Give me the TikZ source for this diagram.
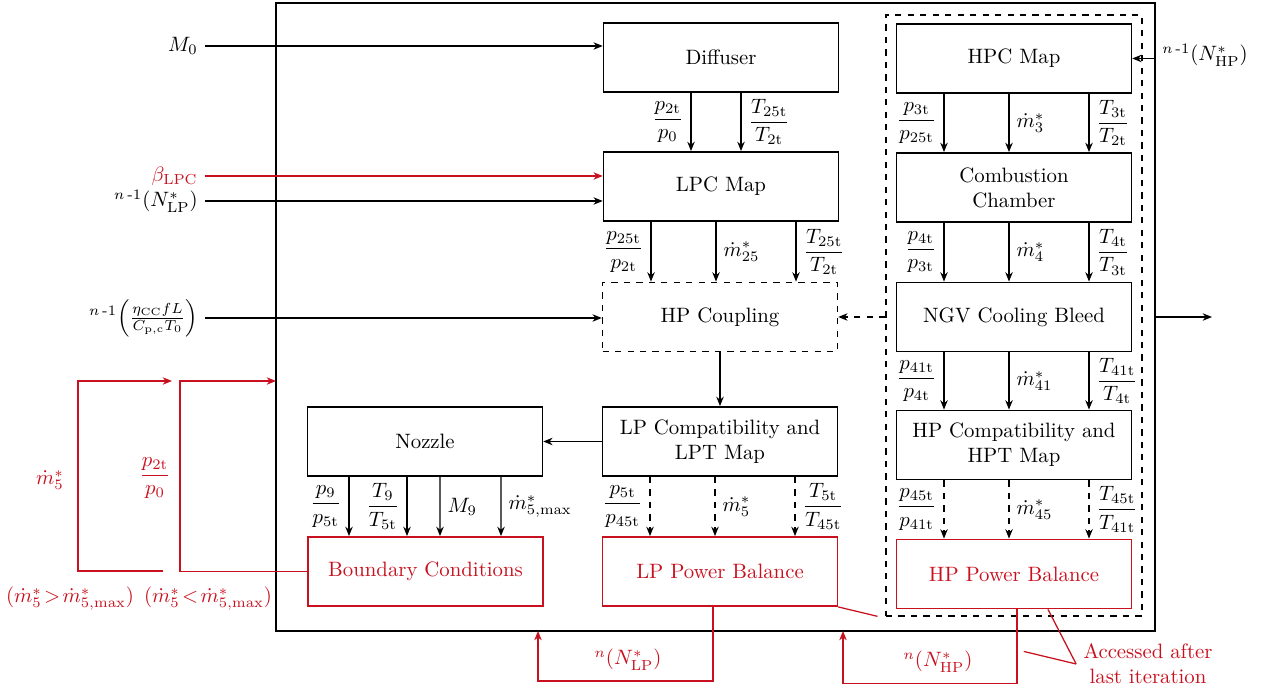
\documentclass[tikz,border=0pt]{standalone}
\usepackage{amsmath}
\usepackage{tikz}
\usetikzlibrary{calc,arrows.meta}
\definecolor{fbred}{RGB}{200,16,30}

\begin{document}
\begin{tikzpicture}[x=0.0169cm,y=-0.0169cm,
  >={Stealth[length=4.5pt,width=3.6pt]},
  blk/.style={draw,thick,minimum width=3.97cm,minimum height=1.17cm,align=center},
  redblk/.style={blk,draw=fbred,text=fbred},
  flow/.style={semithick,->},
  fb/.style={semithick,fbred}]
  \useasboundingbox (0,0) rectangle (1262,689);

  % frames
  \node[draw,thick,minimum width=14.86cm,minimum height=10.61cm] (outer) at (715.5,317) {};
  \node[draw,semithick,dashed,minimum width=4.33cm,minimum height=10.16cm] (hpgroup) at (1014,315.5) {};

  % LP side
  \node[blk] (diff) at (721,57.5) {Diffuser};
  \node[blk] (lpc) at (721,186.5) {LPC Map};
  \node[blk,dashed] (hpcoup) at (720,317) {HP Coupling};
  \node[blk] (lpcomp) at (720,441.5) {LP Compatibility and\\LPT Map};
  \node[blk] (noz) at (425,441.5) {Nozzle};
  \node[redblk] (bc) at (425.5,571.5) {Boundary Conditions};
  \node[redblk] (lppb) at (720,571.5) {LP Power Balance};

  % HP side
  \node[blk] (hpc) at (1014,58.5) {HPC Map};
  \node[blk] (cc) at (1014,187.5) {Combustion\\Chamber};
  \node[blk] (ngv) at (1014,317) {NGV Cooling Bleed};
  \node[blk] (hpcomp) at (1014,445) {HP Compatibility and\\HPT Map};
  \node[redblk] (hppb) at (1014,574) {HP Power Balance};

  % inputs
  \node[anchor=east] (m0) at (205,46) {$M_0$};
  \node[anchor=east,text=fbred] (beta) at (205,176) {$\beta_{\mathrm{LPC}}$};
  \node[anchor=east] (nlpin) at (205,201) {${}^{n\,\text{-}1}\!\left(N^*_{\mathrm{LP}}\right)$};
  \node[anchor=east] (eta) at (205,318) {${}^{n\,\text{-}1}\!\left(\frac{\eta_{\mathrm{CC}}fL}{C_{\mathrm{p,c}}T_0}\right)$};
  \node[anchor=west] (nhpin) at (1155,55) {${}^{n\,\text{-}1}\!\left(N^*_{\mathrm{HP}}\right)$};
  \coordinate (out) at (1212,317);

  \draw[flow] (m0.east) -- (m0.east -| diff.west);
  \draw[flow,fbred] (beta.east) -- (beta.east -| lpc.west);
  \draw[flow] (nlpin.east) -- (nlpin.east -| lpc.west);
  \draw[flow] (eta.east) -- (eta.east -| hpcoup.west);
  \draw[flow] (nhpin.west |- hpc.east) -- (hpc.east);
  \draw[flow] (outer.east |- out) -- (out);
  \draw[flow,dashed] (hpcoup.east -| hpgroup.west) -- (hpcoup.east);
  \draw[flow] (hpcoup) -- (lpcomp);
  \draw[flow] (lpcomp) -- (noz);

  % LP links
  \draw[flow] ($(diff.south)+(-30,0)$) -- ($(lpc.north)+(-30,0)$) node[midway,left] {$\dfrac{p_{2\mathrm{t}}}{p_0}$};
  \draw[flow] ($(diff.south)+(20,0)$) -- ($(lpc.north)+(20,0)$) node[midway,right] {$\dfrac{T_{25\mathrm{t}}}{T_{2\mathrm{t}}}$};
  \draw[flow] ($(lpc.south)+(-70,0)$) -- ($(hpcoup.north)+(-69,0)$) node[midway,left] {$\dfrac{p_{25\mathrm{t}}}{p_{2\mathrm{t}}}$};
  \draw[flow] ($(lpc.south)+(-5,0)$) -- ($(hpcoup.north)+(-4,0)$) node[midway,right] {$\dot m^*_{25}$};
  \draw[flow] ($(lpc.south)+(75,0)$) -- ($(hpcoup.north)+(76,0)$) node[midway,right] {$\dfrac{T_{25\mathrm{t}}}{T_{2\mathrm{t}}}$};
  \draw[flow,dashed] ($(lpcomp.south)+(-70,0)$) -- ($(lppb.north)+(-70,0)$) node[midway,left] {$\dfrac{p_{5\mathrm{t}}}{p_{45\mathrm{t}}}$};
  \draw[flow,dashed] ($(lpcomp.south)+(-5,0)$) -- ($(lppb.north)+(-5,0)$) node[midway,right] {$\dot m^*_{5}$};
  \draw[flow,dashed] ($(lpcomp.south)+(75,0)$) -- ($(lppb.north)+(75,0)$) node[midway,right] {$\dfrac{T_{5\mathrm{t}}}{T_{45\mathrm{t}}}$};
  \draw[flow] ($(noz.south)+(-76,0)$) -- ($(bc.north)+(-76.5,0)$) node[midway,left] {$\dfrac{p_9}{p_{5\mathrm{t}}}$};
  \draw[flow] ($(noz.south)+(-18,0)$) -- ($(bc.north)+(-18.5,0)$) node[midway,left] {$\dfrac{T_9}{T_{5\mathrm{t}}}$};
  \draw[flow] ($(noz.south)+(15,0)$) -- ($(bc.north)+(14.5,0)$) node[midway,right] {$M_9$};
  \draw[flow] ($(noz.south)+(76,0)$) -- ($(bc.north)+(75.5,0)$) node[midway,right] {$\dot m^*_{5,\mathrm{max}}$};

  % HP links
  \draw[flow] ($(hpc.south)+(-70,0)$) -- ($(cc.north)+(-70,0)$) node[midway,left] {$\dfrac{p_{3\mathrm{t}}}{p_{25\mathrm{t}}}$};
  \draw[flow] ($(hpc.south)+(-5,0)$) -- ($(cc.north)+(-5,0)$) node[midway,right] {$\dot m^*_{3}$};
  \draw[flow] ($(hpc.south)+(75,0)$) -- ($(cc.north)+(75,0)$) node[midway,right] {$\dfrac{T_{3\mathrm{t}}}{T_{2\mathrm{t}}}$};
  \draw[flow] ($(cc.south)+(-70,0)$) -- ($(ngv.north)+(-70,0)$) node[midway,left] {$\dfrac{p_{4\mathrm{t}}}{p_{3\mathrm{t}}}$};
  \draw[flow] ($(cc.south)+(-5,0)$) -- ($(ngv.north)+(-5,0)$) node[midway,right] {$\dot m^*_{4}$};
  \draw[flow] ($(cc.south)+(75,0)$) -- ($(ngv.north)+(75,0)$) node[midway,right] {$\dfrac{T_{4\mathrm{t}}}{T_{3\mathrm{t}}}$};
  \draw[flow] ($(ngv.south)+(-70,0)$) -- ($(hpcomp.north)+(-70,0)$) node[midway,left] {$\dfrac{p_{41\mathrm{t}}}{p_{4\mathrm{t}}}$};
  \draw[flow] ($(ngv.south)+(-5,0)$) -- ($(hpcomp.north)+(-5,0)$) node[midway,right] {$\dot m^*_{41}$};
  \draw[flow] ($(ngv.south)+(75,0)$) -- ($(hpcomp.north)+(75,0)$) node[midway,right] {$\dfrac{T_{41\mathrm{t}}}{T_{4\mathrm{t}}}$};
  \draw[flow,dashed] ($(hpcomp.south)+(-70,0)$) -- ($(hppb.north)+(-70,0)$) node[midway,left] {$\dfrac{p_{45\mathrm{t}}}{p_{41\mathrm{t}}}$};
  \draw[flow,dashed] ($(hpcomp.south)+(-5,0)$) -- ($(hppb.north)+(-5,0)$) node[midway,right] {$\dot m^*_{45}$};
  \draw[flow,dashed] ($(hpcomp.south)+(75,0)$) -- ($(hppb.north)+(75,0)$) node[midway,right] {$\dfrac{T_{45\mathrm{t}}}{T_{41\mathrm{t}}}$};

  % feedback (red)
  \coordinate (bcup) at (180,381);
  \coordinate (bcin) at (276,381);
  \coordinate (mfree) at (163,571);
  \coordinate (mup) at (78,381);
  \coordinate (mend) at (172,381);
  \coordinate (lpin) at (538,631);
  \coordinate (hpin) at (843,631);
  \draw[fb,->] (bc.west) -| (bcup) -- (bcin);
  \draw[fb,->] (mfree) -| (mup) -- (mend);
  \draw[fb,->] ($(lppb.south)+(-7,0)$) -- ++(0,74) -| (lpin);
  \draw[fb,->] ($(hppb.south)+(3,0)$) -- ++(0,74) -| (hpin);
  \node[text=fbred] (mlab) at (50,480) {$\dot m^*_5$};
  \node[text=fbred] (plab) at (155,478) {$\dfrac{p_{2\mathrm{t}}}{p_0}$};
  \node[text=fbred] (gtlab) at (70,599) {$(\dot m^*_5\!>\!\dot m^*_{5,\mathrm{max}})$};
  \node[text=fbred] (ltlab) at (208,599) {$(\dot m^*_5\!<\!\dot m^*_{5,\mathrm{max}})$};
  \node[text=fbred] (nlp) at (628,660) {${}^{n}\!\left(N^*_{\mathrm{LP}}\right)$};
  \node[text=fbred] (nhp) at (938,662) {${}^{n}\!\left(N^*_{\mathrm{HP}}\right)$};

  % note
  \node[text=fbred,align=center] (acc) at (1148,664) {Accessed after\\last iteration};
  \draw[fb] (lppb.south east) -- ($(lppb.south east)!0.165!(acc.west)$);
  \draw[fb] ($(lppb.south east)!0.78!(acc.west)$) -- (acc.west);
  \draw[fb] ($(hppb.south)+(34,0)$) -- (acc.west);
\end{tikzpicture}
\end{document}
